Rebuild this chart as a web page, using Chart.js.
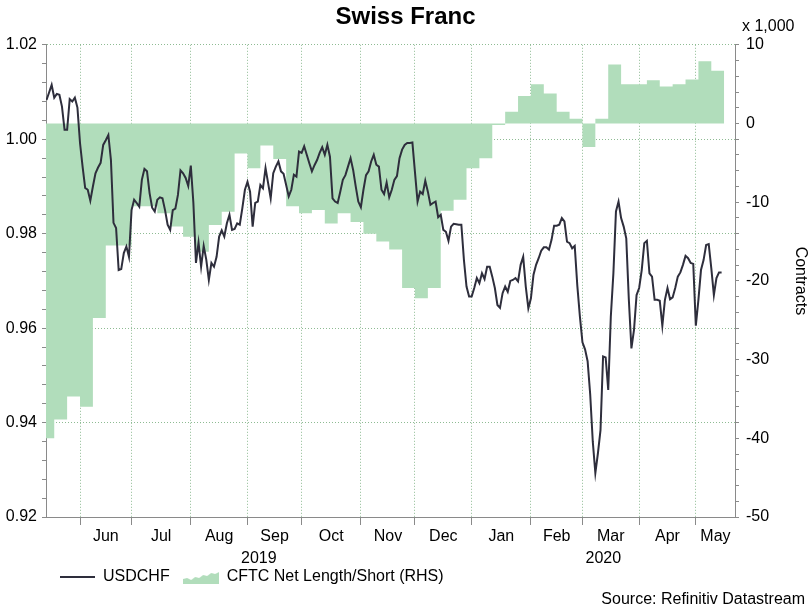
<!DOCTYPE html>
<html>
<head>
<meta charset="utf-8">
<script src="https://cdn.jsdelivr.net/npm/chart.js@4.4.1/dist/chart.umd.min.js"></script>
<style>
  html, body { margin: 0; padding: 0; background: #fff; }
  #wrap { width: 811px; height: 609px; position: relative; }
</style>
</head>
<body>
<div id="wrap"><canvas id="c"></canvas></div>
<script>
// ---------------- DATA ----------------
const chartTitle = 'Swiss Franc';
const lineLabel = 'USDCHF';
const areaLabel = 'CFTC Net Length/Short (RHS)';
const rightAxisTitle = 'Contracts';
const scaleNote = 'x 1,000';
const sourceNote = 'Source: Refinitiv Datastream';

// x axis: trading days (weekdays); axis spans these dates
const axisStart = '2019-05-15';
const axisEnd = '2020-05-22';
const monthLabels = ['Jun','Jul','Aug','Sep','Oct','Nov','Dec','Jan','Feb','Mar','Apr','May'];
const monthFirsts = ['2019-06-01','2019-07-01','2019-08-01','2019-09-01','2019-10-01','2019-11-01',
                     '2019-12-01','2020-01-01','2020-02-01','2020-03-01','2020-04-01','2020-05-01'];
const yearLabels = ['2019','2020'];
const yearFirsts = ['2019-01-01','2020-01-01'];

// USDCHF, one value per weekday starting at this date
const usdchfStart = '2019-05-15';
const usdchf = [
  1.0083,1.0099,1.0115,1.0088,1.0096,1.0094,1.0069,1.0020,1.0020,1.0085,
  1.0080,1.0088,1.0067,0.9992,0.9942,0.9897,0.9893,0.9870,0.9900,0.9928,
  0.9940,0.9950,0.9988,0.9998,1.0009,0.9956,0.9823,0.9812,0.9723,0.9725,
  0.9759,0.9773,0.9751,0.9850,0.9872,0.9865,0.9857,0.9914,0.9937,0.9932,
  0.9886,0.9855,0.9847,0.9872,0.9877,0.9875,0.9850,0.9819,0.9808,0.9850,
  0.9853,0.9882,0.9934,0.9928,0.9918,0.9901,0.9944,0.9865,0.9738,0.9781,
  0.9730,0.9774,0.9745,0.9702,0.9738,0.9730,0.9751,0.9794,0.9807,0.9794,
  0.9822,0.9840,0.9808,0.9810,0.9822,0.9819,0.9854,0.9893,0.9910,0.9889,
  0.9815,0.9865,0.9868,0.9903,0.9896,0.9939,0.9907,0.9875,0.9928,0.9942,
  0.9953,0.9932,0.9927,0.9903,0.9879,0.9893,0.9925,0.9921,0.9974,0.9971,
  0.9985,0.9967,0.9949,0.9932,0.9945,0.9956,0.9971,0.9983,0.9967,0.9988,
  0.9963,0.9875,0.9868,0.9865,0.9889,0.9914,0.9924,0.9942,0.9960,0.9935,
  0.9900,0.9868,0.9856,0.9893,0.9924,0.9932,0.9953,0.9967,0.9946,0.9942,
  0.9893,0.9884,0.9908,0.9877,0.9893,0.9914,0.9922,0.9960,0.9978,0.9988,
  0.9992,0.9992,0.9993,0.9930,0.9868,0.9889,0.9884,0.9912,0.9889,0.9861,
  0.9865,0.9868,0.9835,0.9840,0.9808,0.9804,0.9785,0.9815,0.9821,0.9820,
  0.9819,0.9819,0.9744,0.9688,0.9667,0.9667,0.9685,0.9706,0.9695,0.9716,
  0.9704,0.9730,0.9730,0.9709,0.9685,0.9649,0.9643,0.9674,0.9688,0.9677,
  0.9700,0.9702,0.9706,0.9699,0.9734,0.9751,0.9688,0.9642,0.9663,0.9713,
  0.9734,0.9748,0.9764,0.9771,0.9771,0.9766,0.9787,0.9817,0.9817,0.9819,
  0.9833,0.9826,0.9783,0.9780,0.9769,0.9774,0.9690,0.9625,0.9570,0.9555,
  0.9530,0.9460,0.9360,0.9293,0.9335,0.9384,0.9540,0.9538,0.9469,0.9624,
  0.9716,0.9847,0.9868,0.9833,0.9815,0.9790,0.9660,0.9557,0.9596,0.9670,
  0.9685,0.9723,0.9780,0.9785,0.9716,0.9709,0.9660,0.9660,0.9658,0.9605,
  0.9660,0.9685,0.9661,0.9665,0.9685,0.9709,0.9718,0.9734,0.9753,0.9748,
  0.9738,0.9736,0.9605,0.9660,0.9723,0.9744,0.9776,0.9778,0.9727,0.9670,
  0.9706,0.9718,0.9718
];

// CFTC net position (thousand contracts), weekly, by the week it applies to
const cftcWeeks = [
  '2019-05-13','2019-05-20','2019-05-27','2019-06-03','2019-06-10','2019-06-17','2019-06-24',
  '2019-07-01','2019-07-08','2019-07-15','2019-07-22','2019-07-29','2019-08-05','2019-08-12',
  '2019-08-19','2019-08-26','2019-09-02','2019-09-09','2019-09-16','2019-09-23','2019-09-30',
  '2019-10-07','2019-10-14','2019-10-21','2019-10-28','2019-11-04','2019-11-11','2019-11-18',
  '2019-11-25','2019-12-02','2019-12-09','2019-12-16','2019-12-23','2019-12-30','2020-01-06',
  '2020-01-13','2020-01-20','2020-01-27','2020-02-03','2020-02-10','2020-02-17','2020-02-24',
  '2020-03-02','2020-03-09','2020-03-16','2020-03-23','2020-03-30','2020-04-06','2020-04-13',
  '2020-04-20','2020-04-27','2020-05-04','2020-05-11'
];
const cftcNet = [
  -40.0,-37.6,-34.7,-36.0,-24.7,-15.5,-15.5,
  -10.5,-10.5,-11.4,-13.1,-14.4,-16.3,-12.9,
  -11.2,-3.8,-5.7,-2.8,-4.5,-10.5,-11.4,
  -11.0,-12.7,-11.4,-12.5,-14.0,-15.0,-16.0,
  -20.9,-22.2,-20.9,-11.1,-9.7,-5.7,-4.4,
  -0.2,1.5,3.5,5.0,3.8,1.5,0.6,
  -3.0,0.6,7.5,5.0,5.0,5.5,4.7,
  5.0,5.6,7.9,6.7
];
const cftcLastWeekEnd = '2020-05-18';

const leftTicks = { min: 0.92, max: 1.02, minorStep: 0.004, labelStep: 0.02 };
const rightTicks = { min: -50, max: 10, minorStep: 2, labelStep: 10 };

// ---------------- HELPERS ----------------
const BASE = Date.UTC(2019, 4, 13); // Monday 13 May 2019 = weekday index 0
function parseD(s) { const p = s.split('-').map(Number); return Date.UTC(p[0], p[1] - 1, p[2]); }
// number of weekdays in [BASE, date)
function wd(s) {
  const t = parseD(s); let n = 0;
  for (let d = BASE; d < t; d += 86400000) { const w = new Date(d).getUTCDay(); if (w !== 0 && w !== 6) n++; }
  return n;
}
const xMin = wd(axisStart) - 0.2;
const xMax = wd(axisEnd) + 0.2;

const lineStartIdx = wd(usdchfStart);
const lineData = usdchf.map((v, i) => ({ x: lineStartIdx + i, y: v }));
const areaData = cftcWeeks.map((d, i) => ({ x: wd(d), y: cftcNet[i] }));
areaData.push({ x: wd(cftcLastWeekEnd), y: cftcNet[cftcNet.length - 1] });

const monthIdx = monthFirsts.map(wd);
const monthTicks = [];
monthIdx.forEach((v, i) => {
  monthTicks.push({ value: v, kind: 'start', name: '' });
  const next = i + 1 < monthIdx.length ? monthIdx[i + 1] : xMax;
  monthTicks.push({ value: (v + next) / 2, kind: 'mid', name: monthLabels[i] });
});
const yearIdx = yearFirsts.map(d => Math.max(xMin, wd(d)));
const yearTicks = yearIdx.map((v, i) => {
  const next = i + 1 < yearIdx.length ? yearIdx[i + 1] : xMax;
  return { value: (v + next) / 2, name: yearLabels[i] };
});

function stepTicks(o) {
  const out = []; const n = Math.round((o.max - o.min) / o.minorStep);
  for (let k = 0; k <= n; k++) {
    const v = +(o.min + k * o.minorStep).toFixed(6);
    const r = (v - o.min) / o.labelStep;
    out.push({ value: v, major: Math.abs(r - Math.round(r)) < 1e-6 });
  }
  return out;
}

// ---------------- STYLE ----------------
const FONT = '"Liberation Sans", Arial, Helvetica, sans-serif';
const LINE_COLOR = '#2e2e3c';
const AREA_COLOR = 'rgb(177,221,187)';
const GRID_COLOR = 'rgba(130,180,135,0.9)';
const AXIS_COLOR = '#8a8a8a';

Chart.defaults.font.family = FONT;
Chart.defaults.font.size = 16;
Chart.defaults.color = '#000';

// legend icon for the area series
const areaIcon = document.createElement('canvas');
areaIcon.width = 36; areaIcon.height = 14;
(function () {
  const g = areaIcon.getContext('2d');
  g.fillStyle = AREA_COLOR;
  g.beginPath();
  const pts = [[0,14],[0,9],[4,8],[8,10],[12,7],[16,8],[20,5],[24,6],[28,3],[32,4],[36,2],[36,14]];
  pts.forEach((p, i) => i ? g.lineTo(p[0], p[1]) : g.moveTo(p[0], p[1]));
  g.closePath(); g.fill();
})();

// lifts the legend row closer to the year labels (as in the original layout)
const legendLift = {
  id: 'legendLift',
  afterLayout(chart) {
    const lg = chart.legend; if (!lg) return;
    const shift = 12;
    lg.top -= shift; lg.bottom -= shift;
  }
};

const extraText = {
  id: 'extraText',
  afterDraw(chart) {
    const ctx = chart.ctx; const y2 = chart.scales.y2;
    ctx.save();
    ctx.font = '16px ' + FONT;
    ctx.fillStyle = '#000';
    ctx.textBaseline = 'middle';
    ctx.textAlign = 'left';
    ctx.fillText(scaleNote, y2.left + 7, 27);
    ctx.textAlign = 'right';
    ctx.fillText(sourceNote, chart.width - 6, 600);
    ctx.restore();
  }
};

new Chart(document.getElementById('c'), {
  type: 'line',
  data: {
    datasets: [
      {
        label: lineLabel,
        data: lineData,
        xAxisID: 'x', yAxisID: 'y',
        borderColor: LINE_COLOR, backgroundColor: LINE_COLOR,
        borderWidth: 2, pointRadius: 0, tension: 0, fill: false
      },
      {
        label: areaLabel,
        data: areaData,
        xAxisID: 'x', yAxisID: 'y2',
        stepped: true,
        fill: 'origin',
        backgroundColor: AREA_COLOR,
        borderColor: 'rgba(0,0,0,0)', borderWidth: 0, pointRadius: 0
      }
    ]
  },
  options: {
    responsive: true,
    maintainAspectRatio: false,
    animation: false,
    events: [],
    layout: { padding: { top: 0, left: 0, right: 0, bottom: 2 } },
    plugins: {
      title: {
        display: true, text: chartTitle, color: '#000',
        font: { size: 24, weight: 'bold', family: FONT },
        padding: { top: 3, bottom: 13 }
      },
      legend: {
        display: true, position: 'bottom', align: 'start', fullSize: false,
        labels: {
          color: '#000', font: { size: 16, family: FONT },
          padding: 14, usePointStyle: true, pointStyleWidth: 35,
          generateLabels(chart) {
            const items = Chart.defaults.plugins.legend.labels.generateLabels(chart);
            items.forEach(it => {
              if (it.datasetIndex === 0) { it.pointStyle = 'line'; it.strokeStyle = LINE_COLOR; it.lineWidth = 2; }
              else { it.pointStyle = areaIcon; it.lineWidth = 0; }
            });
            return items;
          }
        }
      },
      tooltip: { enabled: false }
    },
    scales: {
      x: {
        type: 'linear', position: 'bottom', min: xMin, max: xMax,
        afterBuildTicks: s => { s.ticks = monthTicks.map(t => Object.assign({}, t)); },
        afterFit: s => { s.height = 30; },
        ticks: {
          autoSkip: false, maxRotation: 0, padding: 2, color: '#000',
          callback: (v, i, ts) => ts[i].name || ''
        },
        grid: {
          drawOnChartArea: true,
          color: c => (c.tick && c.tick.kind === 'start') ? GRID_COLOR : 'rgba(0,0,0,0)',
          tickColor: c => (c.tick && c.tick.kind === 'start') ? AXIS_COLOR : 'rgba(0,0,0,0)',
          tickLength: 8
        },
        border: { display: true, color: AXIS_COLOR, width: 1, dash: [1, 2] }
      },
      xYear: {
        type: 'linear', position: 'bottom', min: xMin, max: xMax,
        afterBuildTicks: s => { s.ticks = yearTicks.map(t => Object.assign({}, t)); },
        afterFit: s => { s.height = 20; },
        ticks: {
          autoSkip: false, maxRotation: 0, padding: 2, color: '#000',
          callback: (v, i, ts) => ts[i].name || ''
        },
        grid: { display: false, drawTicks: false },
        border: { display: false }
      },
      y: {
        type: 'linear', position: 'left', min: leftTicks.min, max: leftTicks.max,
        afterBuildTicks: s => { s.ticks = stepTicks(leftTicks); },
        afterFit: s => { s.width = 46; },
        ticks: {
          autoSkip: false, padding: 5, color: '#000',
          callback: (v, i, ts) => ts[i].major ? v.toFixed(2) : ''
        },
        grid: {
          drawOnChartArea: true,
          color: c => (c.tick && c.tick.major) ? GRID_COLOR : 'rgba(0,0,0,0)',
          tickColor: AXIS_COLOR, tickLength: 4
        },
        border: { display: true, color: AXIS_COLOR, width: 1, dash: [1, 2] }
      },
      y2: {
        type: 'linear', position: 'right', min: rightTicks.min, max: rightTicks.max,
        afterBuildTicks: s => { s.ticks = stepTicks(rightTicks); },
        afterFit: s => { s.width = 76; },
        ticks: {
          autoSkip: false, padding: 7, color: '#000',
          callback: (v, i, ts) => ts[i].major ? String(Math.round(v)) : ''
        },
        grid: { drawOnChartArea: false, tickColor: AXIS_COLOR, tickLength: 4 },
        border: { display: true, color: AXIS_COLOR, width: 1 },
        title: {
          display: true, text: rightAxisTitle, color: '#000',
          font: { size: 16, family: FONT }, padding: { top: 1, bottom: 0 }
        }
      }
    }
  },
  plugins: [legendLift, extraText]
});
</script>
</body>
</html>
